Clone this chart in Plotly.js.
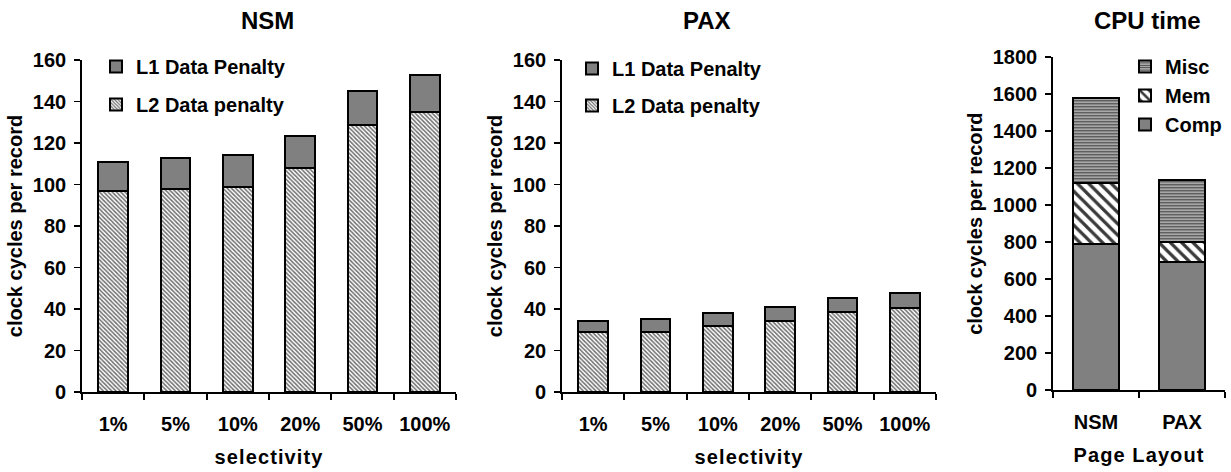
<!DOCTYPE html>
<html>
<head>
<meta charset="utf-8">
<script src="https://cdn.plot.ly/plotly-3.0.1.min.js"></script>
<style>
html,body{margin:0;padding:0;background:#fff;}
#chart{width:1231px;height:472px;}
#chart .g-xtitle text, #chart .g-x2title text, #chart .g-x3title text{letter-spacing:1.1px;}
</style>
</head>
<body>
<div id="chart"></div>
<script>
// ---- data ----
const selectivity = ['1%', '5%', '10%', '20%', '50%', '100%'];
const nsmL2Penalty = [97, 98, 99, 108, 128.5, 135];
const nsmL1Penalty = [14, 15, 15, 15.5, 16.5, 18];
const paxL2Penalty = [29, 29, 32, 34, 38.5, 40.5];
const paxL1Penalty = [5, 6, 6, 7, 7, 7];
const layouts = ['NSM', 'PAX'];
const compTime = [790, 693];
const memTime = [328, 106];
const miscTime = [462, 337];
const panelTitles = ['NSM', 'PAX', 'CPU time'];

// ---- styles ----
const FONT = 'Arial, "Liberation Sans", sans-serif';
const W = 1231, H = 472;
const px = v => v / W;
const py = v => 1 - v / H;
const line = {color: '#000', width: 2};
const l2Marker = {color: '#ffffff', line: line,
  pattern: {shape: '\\', fgcolor: '#6e6e6e', bgcolor: '#ffffff', size: 3, solidity: 0.5}};
const l1Marker = {color: '#808080', line: line};
const compMarker = {color: '#808080', line: line};
const memMarker = {color: '#ffffff', line: line,
  pattern: {shape: '\\', fgcolor: '#3a3a3a', bgcolor: '#ffffff', size: 8, solidity: 0.4}};
const miscMarker = {color: '#ffffff', line: line,
  pattern: {shape: '-', fgcolor: '#404040', bgcolor: '#bdbdbd', size: 3, solidity: 0.45}};

const traces = [
  {type: 'bar', x: selectivity, y: nsmL2Penalty, name: 'L2 Data penalty', marker: l2Marker,
   xaxis: 'x', yaxis: 'y', legend: 'legend', legendgroup: 'a', legendrank: 2, width: 0.48},
  {type: 'bar', x: selectivity, y: nsmL1Penalty, name: 'L1 Data Penalty', marker: l1Marker,
   xaxis: 'x', yaxis: 'y', legend: 'legend', legendgroup: 'b', legendrank: 1, width: 0.48},
  {type: 'bar', x: selectivity, y: paxL2Penalty, name: 'L2 Data penalty', marker: l2Marker,
   xaxis: 'x2', yaxis: 'y2', legend: 'legend2', legendgroup: 'c', legendrank: 2, width: 0.48},
  {type: 'bar', x: selectivity, y: paxL1Penalty, name: 'L1 Data Penalty', marker: l1Marker,
   xaxis: 'x2', yaxis: 'y2', legend: 'legend2', legendgroup: 'd', legendrank: 1, width: 0.48},
  {type: 'bar', x: layouts, y: compTime, name: 'Comp', marker: compMarker,
   xaxis: 'x3', yaxis: 'y3', legend: 'legend3', legendgroup: 'e', legendrank: 3, width: 0.535},
  {type: 'bar', x: layouts, y: memTime, name: 'Mem', marker: memMarker,
   xaxis: 'x3', yaxis: 'y3', legend: 'legend3', legendgroup: 'f', legendrank: 2, width: 0.535},
  {type: 'bar', x: layouts, y: miscTime, name: 'Misc', marker: miscMarker,
   xaxis: 'x3', yaxis: 'y3', legend: 'legend3', legendgroup: 'g', legendrank: 1, width: 0.535}
];

const tickFont = {family: FONT, size: 20, color: '#000', weight: 'bold'};
const titleFont = {family: FONT, size: 20, color: '#000', weight: 'bold'};

function xAxis(domain, anchor, title) {
  return {domain: domain, anchor: anchor, type: 'category', showline: true, linecolor: '#000', linewidth: 1.8,
    ticks: 'outside', tickson: 'boundaries', ticklen: 6, tickwidth: 1.8, tickcolor: '#000',
    ticklabelstandoff: 13, tickfont: tickFont, showgrid: false, zeroline: false, fixedrange: true,
    title: {text: title, font: titleFont, standoff: 16}};
}
function yAxis(domain, anchor, range, dtick, title) {
  return {domain: domain, anchor: anchor, range: range, dtick: dtick, showline: true, linecolor: '#000', linewidth: 1.8,
    ticks: 'outside', ticklen: 6, tickwidth: 1.8, tickcolor: '#000', ticklabelstandoff: 4,
    tickfont: tickFont, showgrid: false, zeroline: false, fixedrange: true,
    title: {text: title, font: titleFont, standoff: 5}};
}
function legendAt(x, y, gap) {
  return {x: x, y: y, xanchor: 'left', yanchor: 'top', bgcolor: 'rgba(0,0,0,0)', borderwidth: 0,
    traceorder: 'grouped', tracegroupgap: gap,
    font: {family: FONT, size: 20, color: '#000', weight: 'bold'}};
}
function panelTitle(text, xc) {
  return {text: text, x: px(xc), y: py(21), xref: 'paper', yref: 'paper', showarrow: false,
    xanchor: 'center', yanchor: 'middle',
    font: {family: FONT, size: 24, weight: 'bold', color: '#000'}};
}

const yDomA = [py(392), py(60)];
const yDomC = [py(390), py(57.3)];

const layout = {
  width: W, height: H,
  margin: {l: 0, r: 0, t: 0, b: 0},
  paper_bgcolor: '#fff', plot_bgcolor: '#fff',
  barmode: 'stack',
  showlegend: true,
  font: {family: FONT, color: '#000'},
  xaxis: xAxis([px(82), px(456)], 'y', 'selectivity'),
  yaxis: yAxis(yDomA, 'x', [0, 160], 20, 'clock cycles per record'),
  xaxis2: xAxis([px(562), px(936)], 'y2', 'selectivity'),
  yaxis2: yAxis(yDomA, 'x2', [0, 160], 20, 'clock cycles per record'),
  xaxis3: xAxis([px(1053), px(1225)], 'y3', 'Page Layout'),
  yaxis3: yAxis(yDomC, 'x3', [0, 1800], 200, 'clock cycles per record'),
  legend: legendAt(px(96), py(47), 9),
  legend2: legendAt(px(572), py(49), 8),
  legend3: legendAt(px(1125), py(47), 0),
  annotations: [
    panelTitle(panelTitles[0], 267),
    panelTitle(panelTitles[1], 707),
    panelTitle(panelTitles[2], 1147)
  ]
};

Plotly.newPlot('chart', traces, layout, {staticPlot: true, displayModeBar: false});
</script>
</body>
</html>
